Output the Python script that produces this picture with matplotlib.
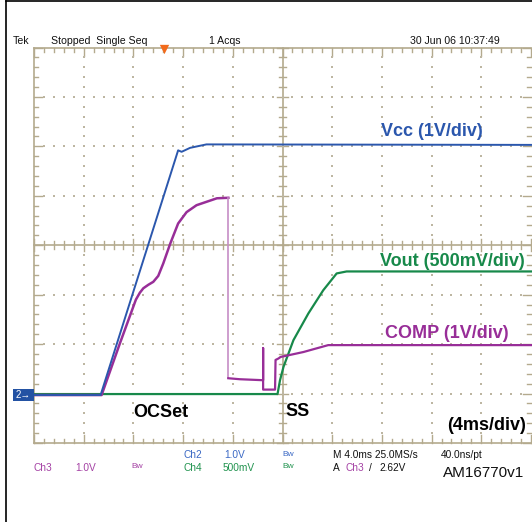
import matplotlib
matplotlib.use("Agg")
import matplotlib.pyplot as plt
import numpy as np

W, H = 532, 522

# graticule box in pixels (left, right, top, bottom)
GX0, GX1, GY0, GY1 = 34, 531, 47.5, 443

# traces, in divisions (x: 0..10 time divs, y: 0..8 volt divs)
vcc_x = [0.0, 1.34, 2.90, 2.97, 3.14, 3.47, 10.0]
vcc_y = [0.97, 0.97, 5.92, 5.89, 5.97, 6.04, 6.03]

comp_x = [0.0, 1.36, 1.73, 2.05, 2.13, 2.20, 2.30, 2.40, 2.50, 2.60, 2.74, 2.90,
          3.07, 3.27, 3.68, 3.91]
comp_y = [0.97, 0.97, 2.02, 2.90, 3.04, 3.13, 3.20, 3.26, 3.38, 3.63, 4.03, 4.44,
          4.67, 4.81, 4.95, 4.96]
comp_drop_x = [3.91, 3.91]
comp_drop_y = [4.96, 1.31]
comp_low_x = [3.91, 4.14, 4.61, 4.61, 4.61, 4.85, 4.86, 4.92, 4.96, 5.42, 5.92, 10.0]
comp_low_y = [1.31, 1.29, 1.27, 1.92, 1.08, 1.08, 1.68, 1.71, 1.74, 1.84, 1.98, 1.98]

vout_x = [0.0, 4.90, 4.95, 5.02, 5.22, 5.52, 5.82, 6.09, 6.29, 10.0]
vout_y = [0.99, 0.99, 1.27, 1.54, 2.08, 2.62, 3.09, 3.43, 3.47, 3.47]

BLUE = "#2b57ad"
PURPLE = "#982e98"
PINK = "#c68ec6"
GREEN = "#17894a"
TAN = "#b4aa8e"

fig = plt.figure(figsize=(W / 100, H / 100), dpi=100)
fig.patch.set_facecolor("white")
ax = fig.add_axes([GX0 / W, 1 - GY1 / H, (GX1 - GX0) / W, (GY1 - GY0) / H])
ax.set_xlim(0, 10)
ax.set_ylim(0, 8)
ax.axis("off")

# outer frame of the screenshot
fig.add_artist(plt.Line2D([5.5 / W, 5.5 / W], [0, 1 - 1 / H], color="black", lw=1.2))
fig.add_artist(plt.Line2D([5.5 / W, 1], [1 - 1 / H, 1 - 1 / H], color="black", lw=1.2))

# graticule
kw = dict(color=TAN, lw=1.2, clip_on=False, zorder=1)
ax.plot([0, 10], [8, 8], **kw)
ax.plot([0, 10], [0, 0], **kw)
ax.plot([0, 0], [0, 8], **kw)
ax.plot([5, 5], [0, 8], **kw)
ax.plot([0, 10], [4, 4], **kw)

tl = dict(color=TAN, lw=1.0, clip_on=False, zorder=1)
for i in range(51):
    x = i * 0.2
    major = i % 5 == 0
    L = 0.17 if major else 0.09
    ax.plot([x, x], [8, 8 - L], **tl)
    ax.plot([x, x], [0, L], **tl)
    c = 0.12 if major else 0.08
    ax.plot([x, x], [4 - c, 4 + c], **tl)
for i in range(41):
    y = i * 0.2
    major = i % 5 == 0
    L = 0.17 if major else 0.09
    ax.plot([0, L], [y, y], **tl)
    ax.plot([10, 10 - L], [y, y], **tl)
    c = 0.12 if major else 0.08
    ax.plot([5 - c, 5 + c], [y, y], **tl)

dx, dy = [], []
for gx in [1, 2, 3, 4, 6, 7, 8, 9]:
    for i in range(1, 40):
        dx.append(gx)
        dy.append(i * 0.2)
for gy in [1, 2, 3, 5, 6, 7]:
    for i in range(1, 50):
        dx.append(i * 0.2)
        dy.append(gy)
ax.scatter(dx, dy, s=1.2, marker="s", color="#bdb6a2", linewidths=0, zorder=1)

# traces
ax.plot(vout_x, vout_y, color=GREEN, lw=1.6, zorder=3, clip_on=False)
ax.plot(comp_x, comp_y, color=PURPLE, lw=1.8, zorder=4, clip_on=False)
ax.plot(comp_drop_x, comp_drop_y, color=PINK, lw=1.2, zorder=4)
ax.plot(comp_low_x, comp_low_y, color=PURPLE, lw=1.6, zorder=4, clip_on=False)
ax.plot(vcc_x, vcc_y, color=BLUE, lw=1.4, zorder=5, clip_on=False)

# trigger position marker
ax.scatter([2.62], [7.96], marker="v", s=45, color="#f26a1b", linewidths=0, zorder=6, clip_on=False)


def px(x, y):
    return x / W, 1 - y / H


# ground marker for ch2
fig.patches.append(plt.Rectangle(px(13, 401), 21 / W, 12 / H, transform=fig.transFigure,
                                 facecolor="#2352a3", edgecolor="none", figure=fig))
fig.text(*px(23.5, 395), "2\u2192", color="white", fontsize=7, ha="center", va="center",
         family=["Liberation Sans", "DejaVu Sans"])

# header
hdr = dict(fontsize=7.6, va="center", ha="left", color="#111111", family=["Liberation Sans", "DejaVu Sans"])
fig.text(*px(13, 41.5), "Tek", **hdr)
fig.text(*px(51, 41.5), "Stopped  Single Seq", **hdr)
fig.text(*px(209, 41.5), "1 Acqs", **hdr)
fig.text(*px(410, 41.5), "30 Jun 06 10:37:49", **hdr)

# trace labels
lab = dict(fontsize=13, fontweight="bold", va="center", ha="left", family=["Liberation Sans", "DejaVu Sans"])
fig.text(*px(381, 131), "Vcc (1V/div)", color=BLUE, **lab)
fig.text(*px(380, 262), "Vout (500mV/div)", color=GREEN, **lab)
fig.text(*px(385, 334), "COMP (1V/div)", color=PURPLE, **lab)
fig.text(*px(133, 412.5), "OCSet", color="black", **lab)
fig.text(*px(285, 412), "SS", color="black", **lab)
fig.text(*px(447, 426), "(4ms/div)", color="black", **lab)

# bottom status lines
st = dict(fontsize=7.3, va="center", ha="left", family=["Liberation Sans", "DejaVu Sans"])
bw = dict(fontsize=6, va="center", ha="left", family=["Liberation Sans", "DejaVu Sans"])
CH2 = "#3a68c4"
CH3 = "#a441a4"
CH4 = "#21934f"
fig.text(*px(184, 455), "Ch2", color=CH2, **st)
fig.text(*px(224, 455), "1.0V", color=CH2, **st)
fig.text(*px(282, 454), "Bw", color=CH2, **bw)
fig.text(*px(333, 455), "M 4.0ms 25.0MS/s", color="#111111", **st)
fig.text(*px(441, 455), "40.0ns/pt", color="#111111", **st)
fig.text(*px(34, 468), "Ch3", color=CH3, **st)
fig.text(*px(75, 468), "1.0V", color=CH3, **st)
fig.text(*px(131, 467), "Bw", color=CH3, **bw)
fig.text(*px(184, 468), "Ch4", color=CH4, **st)
fig.text(*px(223, 468), "500mV", color=CH4, **st)
fig.text(*px(282, 467), "Bw", color=CH4, **bw)
fig.text(*px(333, 468), "A", color="#111111", **st)
fig.text(*px(345, 468), "Ch3", color=CH3, **st)
fig.text(*px(369, 468), "/", color="#111111", **st)
fig.text(*px(379, 468), "2.62V", color="#111111", **st)
fig.text(*px(443, 473), "AM16770v1", color="#111111", fontsize=11, va="center", ha="left",
         family=["Liberation Sans", "DejaVu Sans"])

fig.savefig("out.png", dpi=100)
